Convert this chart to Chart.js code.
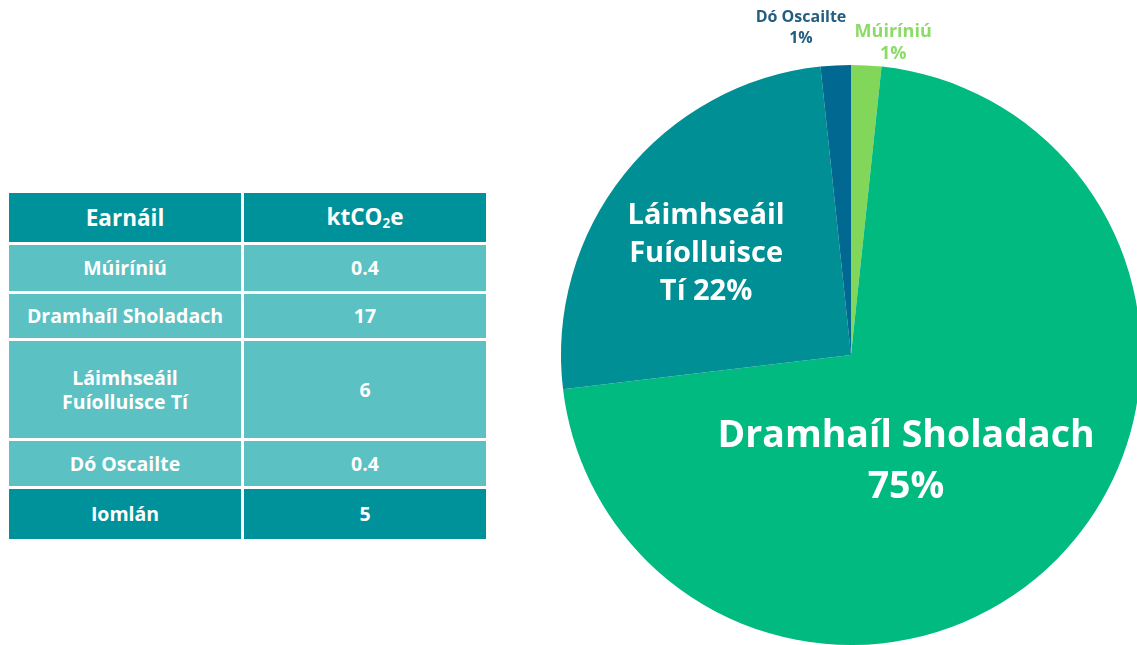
<!DOCTYPE html>
<html>
<head>
<meta charset="utf-8">
<script src="https://cdn.jsdelivr.net/npm/chart.js@4.4.1/dist/chart.umd.min.js"></script>
<style>
  html, body { margin: 0; padding: 0; width: 1137px; height: 645px; overflow: hidden; background: #ffffff; }
  #pie { position: absolute; left: 0; top: 0; }
  #tbl { position: absolute; left: 6px; top: 190px; border-collapse: collapse; font-family: "Open Sans", Lato, sans-serif; font-weight: bold; color: #ffffff; text-align: center; }
  #tbl td { border: 3px solid #ffffff; padding: 0; line-height: 1.2; }
  #tbl tr.head td, #tbl tr.total td { background: #00929A; }
  #tbl tr.body td { background: #5BC1C3; }
  #tbl td.c1 { width: 232px; font-size: 19.5px; }
  #tbl td.c2 { width: 242px; font-size: 19.5px; }
  #tbl tr.head td.c1, #tbl tr.head td.c2 { font-size: 22.5px; }
  sub { font-size: 0.6em; vertical-align: -0.25em; }
</style>
</head>
<body>
<table id="tbl"></table>
<canvas id="pie" width="1150" height="645"></canvas>
<script>
// ---- data ----
const tableHeader = ['Earnáil', 'ktCO<sub>2</sub>e'];
const tableSectors = ['Múiríniú', 'Dramhaíl Sholadach', 'Láimhseáil<br>Fuíolluisce Tí', 'Dó Oscailte'];
const tableValues = ['0.4', '17', '6', '0.4'];
const tableTotalLabel = 'Iomlán';
const tableTotalValue = '5';

const pieLabels = ['Múiríniú', 'Dramhaíl Sholadach', 'Láimhseáil Fuíolluisce Tí', 'Dó Oscailte'];
const pieValues = [0.4, 17, 6, 0.4];
const piePercentText = ['1%', '75%', '22%', '1%'];
const pieColors = ['#82D75A', '#00BA80', '#008F95', '#006891'];

// ---- table ----
const headHeight = 49;
const rowHeights = [46, 44, 97, 45];
const totalHeight = 50;
const tbl = document.getElementById('tbl');
let html = '<tr class="head"><td class="c1" style="height:' + headHeight + 'px">' + tableHeader[0] + '</td><td class="c2">' + tableHeader[1] + '</td></tr>';
tableSectors.forEach((s, i) => {
  html += '<tr class="body"><td class="c1" style="height:' + rowHeights[i] + 'px">' + s + '</td><td class="c2">' + tableValues[i] + '</td></tr>';
});
html += '<tr class="total"><td class="c1" style="height:' + totalHeight + 'px">' + tableTotalLabel + '</td><td class="c2">' + tableTotalValue + '</td></tr>';
tbl.innerHTML = html;

// ---- label placement (polar: degrees clockwise from top, fraction of radius) ----
const labelSpecs = [
  { lines: ['Múiríniú', '1%'], angle: 7.7, r: 1.085, size: 18, lh: 22, color: '#8CDB68' },
  { lines: ['Dramhaíl Sholadach', '75%'], angle: 152.8, r: 0.415, size: 37.5, lh: 51, color: '#ffffff' },
  { lines: ['Láimhseáil', 'Fuíolluisce', 'Tí 22%'], angle: 305, r: 0.61, size: 29, lh: 38, color: '#ffffff' },
  { lines: ['Dó Oscailte', '1%'], angle: 351.3, r: 1.14, size: 16, lh: 21, color: '#235D80' }
];

const labelPlugin = {
  id: 'sliceLabels',
  afterDatasetsDraw(chart) {
    const ctx = chart.ctx;
    const meta = chart.getDatasetMeta(0);
    meta.data.forEach((arc, i) => {
      const spec = labelSpecs[i];
      const a = (spec.angle - 90) * Math.PI / 180;
      const cx = arc.x + Math.cos(a) * arc.outerRadius * spec.r;
      const cy = arc.y + Math.sin(a) * arc.outerRadius * spec.r;
      ctx.save();
      ctx.fillStyle = spec.color;
      ctx.font = 'bold ' + spec.size + 'px "Open Sans", Lato, sans-serif';
      ctx.textAlign = 'center';
      ctx.textBaseline = 'middle';
      const n = spec.lines.length;
      spec.lines.forEach((t, k) => {
        ctx.fillText(t, cx, cy + (k - (n - 1) / 2) * spec.lh);
      });
      ctx.restore();
    });
  }
};

new Chart(document.getElementById('pie'), {
  type: 'pie',
  data: {
    labels: pieLabels,
    datasets: [{ data: pieValues, backgroundColor: pieColors, borderWidth: 0 }]
  },
  options: {
    responsive: false,
    animation: false,
    layout: { padding: { left: 561, top: 65, right: 9, bottom: 0 } },
    plugins: { legend: { display: false }, tooltip: { enabled: false } }
  },
  plugins: [labelPlugin]
});
</script>
</body>
</html>
